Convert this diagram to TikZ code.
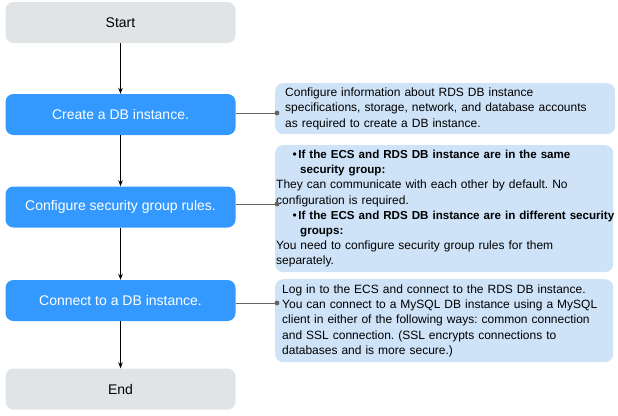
\documentclass[tikz,border=0pt]{standalone}
\usepackage{fontspec}
\setmainfont{Liberation Sans}
\usetikzlibrary{arrows.meta}
\definecolor{stepblue}{RGB}{51,153,255}
\definecolor{endgray}{RGB}{225,228,231}
\definecolor{noteblue}{RGB}{207,227,248}
\definecolor{linkgray}{RGB}{100,100,100}
\newcommand{\boldbit}[1]{{\fontsize{11.6}{15}\selectfont\bfseries #1}}
\frenchspacing
\begin{document}
\begin{tikzpicture}[x=1pt,y=-1pt,
  stepbox/.style={rounded corners=8pt, minimum width=230pt, minimum height=41pt, inner sep=0pt, font=\fontsize{14}{16}\selectfont},
  bluebox/.style={stepbox, fill=stepblue, text=white},
  graybox/.style={stepbox, fill=endgray, text=black},
  notebox/.style={rounded corners=8pt, fill=noteblue, anchor=north west, align=left, inner ysep=0pt, font=\fontsize{12}{15.2}\selectfont},
  flow/.style={draw=black, line width=0.9pt, -{Stealth[length=6pt,width=4.5pt]}},
  link/.style={draw=linkgray, line width=0.9pt},
  dot/.style={fill=linkgray}]
\useasboundingbox (0,0) rectangle (618,415);

\node[graybox] (start) at (120.5,22.5) {Start};
\node[bluebox] (create) at (120.5,114.5) {Create a DB instance.};
\node[bluebox] (secgrp) at (120.5,207) {Configure security group rules.};
\node[bluebox] (connect) at (120.5,300.5) {Connect to a DB instance.};
\node[graybox] (end) at (120.5,389) {End};

\draw[flow] (start) -- (create);
\draw[flow] (create) -- (secgrp);
\draw[flow] (secgrp) -- (connect);
\draw[flow] (connect) -- (end);

\node[notebox, minimum height=51pt, text width=320pt, inner xsep=10pt] (note1) at (275,83)
{Configure information about RDS DB instance\\
specifications, storage, network, and database accounts\\
as required to create a DB instance.};

\node[notebox, minimum height=127pt, text width=336pt, inner xsep=1pt] (note2) at (275,145)
{\hspace*{16.5pt}\textbullet\hspace*{1.5pt}\boldbit{If the ECS and RDS DB instance are in the same}\\
\hspace*{24pt}\boldbit{security group:}\\
They can communicate with each other by default. No\\
configuration is required.\\
\hspace*{16.5pt}\textbullet\hspace*{1.5pt}\mbox{\boldbit{If the ECS and RDS DB instance are in different security}}\\
\hspace*{24pt}\boldbit{groups:}\\
You need to configure security group rules for them\\
separately.};

\node[notebox, minimum height=83pt, text width=324pt, inner xsep=7pt] (note3) at (275,279)
{Log in to the ECS and connect to the RDS DB instance.\\
You can connect to a MySQL DB instance using a MySQL\\
client in either of the following ways: common connection\\
and SSL connection. (SSL encrypts connections to\\
databases and is more secure.)};

\coordinate (d1) at (277,113);
\coordinate (d2) at (277,204);
\coordinate (d3) at (277,303);
\draw[link] (create.east |- d1) -- (d1);
\draw[link] (secgrp.east |- d2) -- (d2);
\draw[link] (connect.east |- d3) -- (d3);
\fill[dot] (d1) circle (2.4pt);
\fill[dot] (d2) circle (2.4pt);
\fill[dot] (d3) circle (2.4pt);
\end{tikzpicture}
\end{document}
